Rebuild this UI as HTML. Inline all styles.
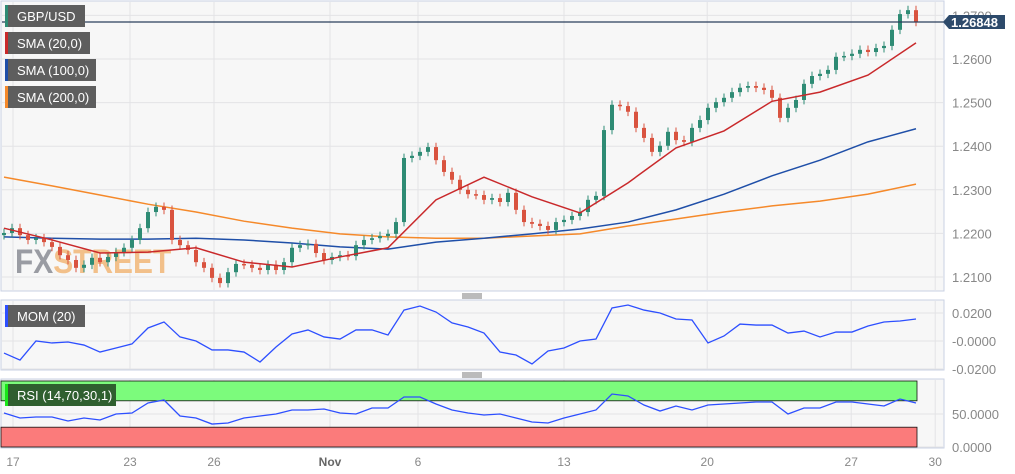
<!DOCTYPE html>
<html><head><meta charset="utf-8"><style>
body{margin:0;background:#fff;width:1015px;height:474px;overflow:hidden;font-family:"Liberation Sans",sans-serif}
svg{display:block}
</style></head><body>
<svg id="c" width="1015" height="474"></svg>
<script>
const closes=[1.2201,1.2212,1.2196,1.2185,1.2189,1.2180,1.2169,1.2150,1.2139,1.2121,1.2128,1.2144,1.2134,1.2146,1.2157,1.2167,1.2185,1.2212,1.2249,1.2261,1.2254,1.2185,1.2173,1.2162,1.2134,1.2121,1.2098,1.2086,1.2111,1.2130,1.2128,1.2121,1.2116,1.2128,1.2116,1.2134,1.2167,1.2173,1.2176,1.2155,1.2139,1.2146,1.2150,1.2148,1.2173,1.2185,1.2189,1.2194,1.2199,1.2226,1.2373,1.2378,1.2387,1.2398,1.2368,1.2341,1.2323,1.2300,1.2290,1.2288,1.2277,1.2281,1.2272,1.2293,1.2254,1.2226,1.2222,1.2217,1.2208,1.2226,1.2231,1.2240,1.2249,1.2277,1.2286,1.2437,1.2495,1.2492,1.2479,1.2442,1.2419,1.2387,1.2401,1.2433,1.2414,1.2410,1.2442,1.2460,1.2488,1.2501,1.2511,1.2524,1.2534,1.2538,1.2534,1.2529,1.2511,1.2465,1.2488,1.2506,1.2543,1.2561,1.2566,1.2575,1.2605,1.2607,1.2612,1.2621,1.2616,1.2625,1.2630,1.2667,1.2703,1.2712,1.2685];
const sma20=[1.2212,1.2185,1.2155,1.2157,1.2167,1.2134,1.2123,1.2146,1.2167,1.2277,1.2329,1.2284,1.2247,1.2316,1.2396,1.2435,1.2503,1.2524,1.2563,1.2637];
const sma100=[1.2192,1.2189,1.2187,1.2187,1.2189,1.2185,1.2178,1.2169,1.2164,1.2180,1.2189,1.2199,1.2210,1.2226,1.2254,1.2290,1.2332,1.2368,1.2410,1.2440];
const sma200=[1.2329,1.2309,1.2288,1.2267,1.2249,1.2228,1.2212,1.2199,1.2192,1.2189,1.2189,1.2194,1.2199,1.2217,1.2233,1.2249,1.2263,1.2274,1.2290,1.2313];
const mom=[-0.0086,-0.0136,0,-0.0014,-0.0007,-0.0029,-0.0079,-0.0050,-0.0021,0.0093,0.0136,0.0029,0,-0.0064,-0.0064,-0.0079,-0.0150,-0.0043,0.0050,0.0079,0.0029,0.0014,0.0079,0.0079,0.0043,0.0221,0.0250,0.0207,0.0129,0.0100,0.0057,-0.0079,-0.0100,-0.0164,-0.0071,-0.0050,0,0.0014,0.0236,0.0257,0.0221,0.0200,0.0157,0.0150,-0.0014,0.0036,0.0121,0.0114,0.0114,0.0057,0.0071,0.0029,0.0064,0.0064,0.0107,0.0136,0.0143,0.0157];
const rsi=[51.5,43.9,45.5,45.5,39.4,43.9,40.9,50,51.5,66.7,71.2,47,43.9,34.8,36.4,43.9,47,50,56.1,56.1,57.6,51.5,50,59.1,59.1,75.8,75.8,65.2,56.1,51.5,48.5,50,43.9,37.9,36.4,43.9,50,56.1,80.3,77.3,63.6,54.5,62.1,56.1,63.6,65.2,66.7,68.2,68.2,50,59.1,59.1,68.2,68.2,65.2,62.1,72.7,66.7];
const priceTicks=[1.21,1.22,1.23,1.24,1.25,1.26,1.27];
const momTicks=[0.02,0,-0.02];
const momTickLabels=["0.0200","-0.0000","-0.0200"];
const rsiTicks=[50,0];
const dayLabels=["17","23","26","Nov","6","13","20","27","30"];
const dayIdx=[1.125,15.75,26.25,40.75,51.75,70,87.9,105.9,116.4];
const lastPrice=1.26848;

const NS="http://www.w3.org/2000/svg",svg=document.getElementById('c');
function el(t,a,p){const e=document.createElementNS(NS,t);for(const k in a)e.setAttribute(k,a[k]);(p||svg).appendChild(e);return e;}
const x=i=>4+i*8;
const yP=p=>277-(p-1.21)*4360;
const yM=v=>341-v*1400;
const yR=v=>447-v*0.66;

let r=el('rect',{x:1,y:1,width:943,height:290,fill:'#f7f7f7',stroke:'#c9d0e3'});

r=el('rect',{x:1,y:300,width:943,height:70,fill:'#f7f7f7',stroke:'#c9d0e3'});

r=el('rect',{x:1,y:379,width:943,height:69,fill:'#f7f7f7',stroke:'#c9d0e3'});


dayIdx.forEach((d,k)=>{
  const xx=x(d);
  [[2,290],[301,369],[380,447]].forEach(s=>{const l=el('line',{x1:xx,x2:xx,y1:s[0],y2:s[1],stroke:'#e3e3e6'});});
  const t=el('text',{x:xx,y:466,'text-anchor':'middle','font-size':12,fill:dayLabels[k]=='Nov'?'#666':'#888','font-weight':dayLabels[k]=='Nov'?'bold':'normal'});
  t.textContent=dayLabels[k];
});
priceTicks.forEach(p=>{
  const l=el('line',{x1:2,x2:943,y1:yP(p),y2:yP(p),stroke:'#e3e3e6'});
  const t=el('text',{x:952,y:yP(p)+5,'font-size':13,fill:'#888'});t.textContent=p.toFixed(4);
  
});
momTicks.forEach((v,k)=>{
  const l=el('line',{x1:2,x2:943,y1:yM(v),y2:yM(v),stroke:'#e3e3e6'});
  const t=el('text',{x:952,y:yM(v)+5,'font-size':13,fill:'#888'});t.textContent=momTickLabels[k];
  
});
rsiTicks.forEach(v=>{
  const l=el('line',{x1:2,x2:943,y1:yR(v),y2:yR(v),stroke:'#e3e3e6'});
  const t=el('text',{x:952,y:yR(v)+5,'font-size':13,fill:'#888'});t.textContent=v.toFixed(4);
  
});

const wm=el('text',{x:15,y:273,'font-size':34,'font-weight':'bold',transform:'translate(15,0) scale(0.88,1) translate(-15,0)'});

const t1=el('tspan',{fill:'#9a9ca3'},wm);t1.textContent='FX';
const t2=el('tspan',{fill:'#f2c08a'},wm);t2.textContent='STREET';

function line(arr,step,yf,color,name,w){
  const pts=arr.map((v,i)=>x(i*step)+','+yf(v)).join(' ');
  const p=el('polyline',{points:pts,fill:'none',stroke:color,'stroke-width':w||1.5});
  
}
line(sma200,6,yP,'#f5892a','sma-200-line');
line(sma100,6,yP,'#1f4fa8','sma-100-line');

closes.forEach((c,i)=>{
  const o=i?closes[i-1]:c-0.0005;
  const up=c>=o,col=up?'#2e8b74':'#d9533f';
  const hi=Math.max(o,c)+0.0010,lo=Math.min(o,c)-0.0010;
  const g=el('g',{});
  el('line',{x1:x(i),x2:x(i),y1:yP(hi),y2:yP(lo),stroke:col},g);
  const top=yP(Math.max(o,c)),h=Math.max(1.5,yP(Math.min(o,c))-top);
  el('rect',{x:x(i)-2,y:top,width:4,height:h,fill:col},g);
});
line(sma20,6,yP,'#c9292b','sma-20-line');

let lp=el('line',{x1:2,x2:944,y1:yP(lastPrice),y2:yP(lastPrice),stroke:'#2b3f5c','stroke-width':1.2});

let lb=el('path',{d:`M943 ${yP(lastPrice)} L949 ${yP(lastPrice)-7} L1005 ${yP(lastPrice)-7} L1005 ${yP(lastPrice)+7} L949 ${yP(lastPrice)+7} Z`,fill:'#2d4a6b'});

let lt=el('text',{x:951,y:yP(lastPrice)+5,'font-size':13,'font-weight':'bold',fill:'#fff'});lt.textContent=lastPrice.toFixed(5);


let gb=el('rect',{x:1,y:yR(100),width:916,height:yR(70)-yR(100),fill:'#7cfb7c',stroke:'#111','stroke-width':0.8});

let rb=el('rect',{x:1,y:yR(30),width:916,height:yR(0)-yR(30),fill:'#fb7b7b',stroke:'#111','stroke-width':0.8});


line(mom,2,yM,'#2d4fff','momentum-line',1.3);
line(rsi,2,yR,'#2d4fff','rsi-line',1.3);

[296,375].forEach(yy=>{const g=el('g',{});
  [-2,0,2].forEach(d=>el('line',{x1:462,x2:482,y1:yy+d,y2:yy+d,stroke:'#777'},g));});

function box(x0,y0,w,txt,stripe,name,bg){
  const g=el('g',{});
  el('rect',{x:x0,y:y0,width:w,height:22,fill:bg||'#5e5e5e'},g);
  el('rect',{x:x0,y:y0,width:3,height:22,fill:stripe},g);
  const t=el('text',{x:x0+12,y:y0+16,'font-size':13,fill:'#fff'},g);t.textContent=txt;
}
box(5,5,80,'GBP/USD','#2e8b74','legend-gbpusd');
box(5,32,85,'SMA (20,0)','#c9292b','legend-sma-20');
box(5,59,91,'SMA (100,0)','#1f4fa8','legend-sma-100');
box(5,86,91,'SMA (200,0)','#f5892a','legend-sma-200');
box(5,305,80,'MOM (20)','#2d4fff','legend-momentum');
box(5,384,111,'RSI (14,70,30,1)','#19e619','legend-rsi','#2f5f2f');
</script>
</body></html>
